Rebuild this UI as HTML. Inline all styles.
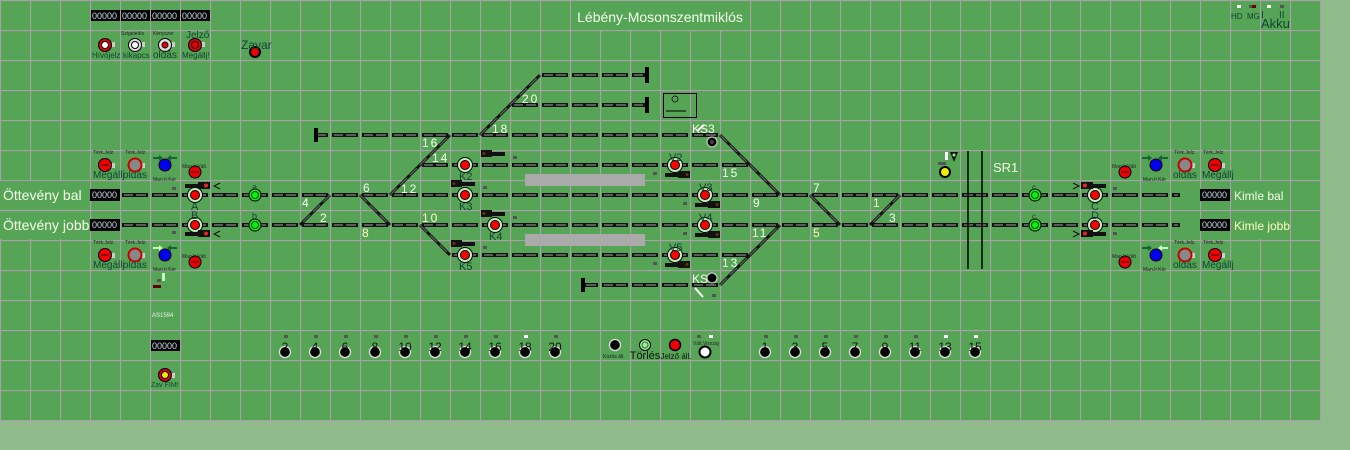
<!DOCTYPE html>
<html><head><meta charset="utf-8"><style>
html,body{margin:0;padding:0;background:#8fbc8a;}
svg{display:block}
text{font-family:"Liberation Sans",sans-serif}
.n{font-family:"Liberation Mono",monospace;font-size:12px;fill:#f4ffe8}
.s{font-size:5px;fill:#222}
.l{font-size:10px;fill:#143}
</style></head><body>
<svg width="1350" height="450" viewBox="0 0 1350 450" xmlns="http://www.w3.org/2000/svg">
<defs>
<pattern id="grid" width="30" height="30" patternUnits="userSpaceOnUse">
<rect width="30" height="30" fill="#56a556"/>
<path d="M0 0.5H30M0.5 0V30" stroke="#aaa0aa" stroke-width="1.2"/>
</pattern>
</defs>
<rect width="1350" height="450" fill="#8fbc8a"/>
<rect width="1321" height="421" fill="url(#grid)"/>
<!-- label boxes hiding grid -->
<rect x="571" y="1" width="179" height="29" fill="#56a556"/>
<rect x="0" y="181" width="90" height="58" fill="#56a556"/>
<line x1="0" y1="210.5" x2="90" y2="210.5" stroke="#aaa0aa" stroke-width="1.2"/>
<rect x="1231" y="181" width="59" height="58" fill="#56a556"/>
<line x1="1231" y1="210.5" x2="1290" y2="210.5" stroke="#aaa0aa" stroke-width="1.2"/>

<text x="660" y="22" text-anchor="middle" font-size="14" fill="#f4ffe8">Lébény-Mosonszentmiklós</text>

<!-- tracks -->
<g fill="none">
<g stroke="#111" stroke-width="4" stroke-dasharray="26 4">
<line x1="120" y1="195" x2="1180" y2="195" stroke-dashoffset="28"/>
<line x1="120" y1="225" x2="1180" y2="225" stroke-dashoffset="28"/>
<line x1="420" y1="165" x2="750" y2="165" stroke-dashoffset="28"/>
<line x1="315" y1="135" x2="720" y2="135" stroke-dashoffset="13"/>
<line x1="510" y1="105" x2="648" y2="105" stroke-dashoffset="28"/>
<line x1="540" y1="75" x2="648" y2="75" stroke-dashoffset="28"/>
<line x1="450" y1="255" x2="750" y2="255" stroke-dashoffset="28"/>
<line x1="583" y1="285" x2="720" y2="285" stroke-dashoffset="11"/>
</g>
<g stroke="#5a5a5a" stroke-width="2" stroke-dasharray="9 3 10 8">
<line x1="120" y1="195" x2="1178" y2="195" stroke-dashoffset="26"/>
<line x1="120" y1="225" x2="1178" y2="225" stroke-dashoffset="26"/>
<line x1="420" y1="165" x2="748" y2="165" stroke-dashoffset="26"/>
<line x1="315" y1="135" x2="718" y2="135" stroke-dashoffset="11"/>
<line x1="510" y1="105" x2="646" y2="105" stroke-dashoffset="26"/>
<line x1="540" y1="75" x2="646" y2="75" stroke-dashoffset="26"/>
<line x1="450" y1="255" x2="748" y2="255" stroke-dashoffset="26"/>
<line x1="583" y1="285" x2="718" y2="285" stroke-dashoffset="9"/>
</g>
<g stroke="#111" stroke-width="3">
<line x1="330" y1="195" x2="300" y2="225"/><line x1="360" y1="195" x2="390" y2="225"/>
<line x1="390" y1="195" x2="450" y2="135"/><line x1="480" y1="135" x2="540" y2="75"/>
<line x1="420" y1="225" x2="450" y2="255"/><line x1="720" y1="135" x2="780" y2="195"/>
<line x1="720" y1="285" x2="780" y2="225"/><line x1="810" y1="195" x2="840" y2="225"/>
<line x1="900" y1="195" x2="870" y2="225"/>
</g>
<g stroke="#666" stroke-width="1.2" stroke-dasharray="10 4">
<line x1="330" y1="195" x2="300" y2="225"/><line x1="360" y1="195" x2="390" y2="225"/>
<line x1="390" y1="195" x2="450" y2="135"/><line x1="480" y1="135" x2="540" y2="75"/>
<line x1="420" y1="225" x2="450" y2="255"/><line x1="720" y1="135" x2="780" y2="195"/>
<line x1="720" y1="285" x2="780" y2="225"/><line x1="810" y1="195" x2="840" y2="225"/>
<line x1="900" y1="195" x2="870" y2="225"/>
</g>
<g stroke="#000" stroke-width="4">
<line x1="316" y1="128" x2="316" y2="142"/><line x1="647" y1="67" x2="647" y2="83"/>
<line x1="647" y1="97" x2="647" y2="113"/><line x1="583" y1="278" x2="583" y2="292"/>
</g>
<line x1="968" y1="151" x2="968" y2="269" stroke="#000" stroke-width="1.5"/>
<line x1="982" y1="151" x2="982" y2="269" stroke="#000" stroke-width="1.5"/>
<line x1="695" y1="288" x2="703" y2="297" stroke="#fff" stroke-width="2"/>
<line x1="697" y1="131" x2="704" y2="125" stroke="#fff" stroke-width="2"/>
</g>
<!-- platforms -->
<rect x="525" y="174" width="120" height="12" fill="#aaa"/>
<rect x="525" y="234" width="120" height="12" fill="#aaa"/>
<!-- box -->
<rect x="663.5" y="93.5" width="33" height="24" fill="none" stroke="#000"/>
<circle cx="675" cy="99" r="3" fill="none" stroke="#000" stroke-width="0.8"/>
<line x1="666" y1="111" x2="686" y2="111" stroke="#000"/>

<!-- track numbers -->
<g class="n" letter-spacing="2">
<text x="422" y="147">16</text><text x="432" y="162">14</text><text x="401" y="193">12</text>
<text x="492" y="133">18</text><text x="522" y="103">20</text><text x="722" y="177">15</text>
<text x="753" y="207">9</text><text x="813" y="192">7</text><text x="422" y="222" fill="#ffffc0">10</text>
<text x="752" y="237">11</text><text x="813" y="237" fill="#ffffc0">5</text><text x="722" y="267">13</text>
<text x="363" y="192">6</text><text x="302" y="207">4</text><text x="320" y="222">2</text>
<text x="362" y="237" fill="#ffffc0">8</text><text x="873" y="207" fill="#ffffc0">1</text><text x="889" y="222">3</text>
<text x="692" y="133" letter-spacing="0">KS3</text><text x="692" y="283" letter-spacing="0">KS0</text>
</g>
<circle cx="712" cy="142" r="5" fill="#000" stroke="#ddd"/><circle cx="712" cy="142" r="2" fill="#444"/>
<circle cx="712" cy="278" r="5" fill="#000" stroke="#ddd"/>

<!-- side labels -->
<text x="3" y="200" font-size="14" fill="#f4ffe8">Öttevény bal</text>
<text x="3" y="230" font-size="14" fill="#f4ffe8">Öttevény jobb</text>
<text x="1234" y="200" font-size="12" fill="#f4ffe8">Kimle bal</text>
<text x="1234" y="230" font-size="12" fill="#ffffc0">Kimle jobb</text>
<text x="993" y="172" font-size="13" fill="#f4ffe8">SR1</text>
<!-- counters -->
<g font-family="Liberation Mono" font-size="9" fill="#cde">
<rect x="90" y="189" width="30" height="12" fill="#000"/><text x="92" y="198">00000</text>
<rect x="90" y="219" width="30" height="12" fill="#000"/><text x="92" y="228">00000</text>
<rect x="1200" y="189" width="30" height="12" fill="#000"/><text x="1202" y="198">00000</text>
<rect x="1200" y="219" width="30" height="12" fill="#000"/><text x="1202" y="228">00000</text>
<rect x="91" y="10" width="29" height="11" fill="#000"/><text x="92" y="19">00000</text>
<rect x="121" y="10" width="29" height="11" fill="#000"/><text x="122" y="19">00000</text>
<rect x="151" y="10" width="29" height="11" fill="#000"/><text x="152" y="19">00000</text>
<rect x="181" y="10" width="29" height="11" fill="#000"/><text x="182" y="19">00000</text>
<rect x="151" y="340" width="29" height="11" fill="#000"/><text x="152" y="349">00000</text>
</g>

<!-- main signals -->
<g stroke="#000" stroke-width="1">
<g fill="#bfeebf">
<circle cx="195" cy="195" r="7.5"/><circle cx="195" cy="225" r="7.5"/>
<circle cx="465" cy="165" r="7.5"/><circle cx="465" cy="195" r="7.5"/><circle cx="495" cy="225" r="7.5"/><circle cx="465" cy="255" r="7.5"/>
<circle cx="675" cy="165" r="7.5"/><circle cx="705" cy="195" r="7.5"/><circle cx="705" cy="225" r="7.5"/><circle cx="675" cy="255" r="7.5"/>
<circle cx="1095" cy="195" r="7.5"/><circle cx="1095" cy="225" r="7.5"/>
</g>
<g fill="#f00">
<circle cx="195" cy="195" r="4.5"/><circle cx="195" cy="225" r="4.5"/>
<circle cx="465" cy="165" r="4.5"/><circle cx="465" cy="195" r="4.5"/><circle cx="495" cy="225" r="4.5"/><circle cx="465" cy="255" r="4.5"/>
<circle cx="675" cy="165" r="4.5"/><circle cx="705" cy="195" r="4.5"/><circle cx="705" cy="225" r="4.5"/><circle cx="675" cy="255" r="4.5"/>
<circle cx="1095" cy="195" r="4.5"/><circle cx="1095" cy="225" r="4.5"/>
</g>
<g fill="#1e1"><circle cx="255" cy="195" r="6"/><circle cx="255" cy="225" r="6"/><circle cx="1035" cy="195" r="6"/><circle cx="1035" cy="225" r="6"/></g>
<g fill="none" stroke="#040"><circle cx="255" cy="195" r="3.5"/><circle cx="255" cy="225" r="3.5"/><circle cx="1035" cy="195" r="3.5"/><circle cx="1035" cy="225" r="3.5"/></g>
</g>
<g font-size="11" fill="#143">
<text x="191" y="210">A</text><text x="191" y="219">B</text><text x="1091" y="210">C</text><text x="1091" y="219">D</text>
<text x="459" y="180">K2</text><text x="459" y="210">K3</text><text x="489" y="240">K4</text><text x="459" y="270">K5</text>
<text x="669" y="161">V2</text><text x="699" y="191">V3</text><text x="699" y="221">V4</text><text x="669" y="251">V5</text>
<text x="252" y="190" font-size="9">a</text><text x="252" y="219" font-size="9">b</text>
<text x="1032" y="190" font-size="8">c</text><text x="1032" y="219" font-size="8">c</text>
</g>
<!-- signal heads -->
<g>
<g fill="#111">
<rect x="185" y="184" width="25" height="4"/><rect x="198" y="182" width="12" height="7"/>
<rect x="185" y="232" width="25" height="4"/><rect x="198" y="230" width="12" height="7"/>
<rect x="481" y="152" width="24" height="4"/><rect x="481" y="150" width="11" height="7"/>
<rect x="451" y="182" width="24" height="4"/><rect x="451" y="180" width="11" height="7"/>
<rect x="481" y="212" width="24" height="4"/><rect x="481" y="210" width="11" height="7"/>
<rect x="451" y="242" width="24" height="4"/><rect x="451" y="240" width="11" height="7"/>
<rect x="665" y="173" width="25" height="4"/><rect x="678" y="171" width="12" height="7"/>
<rect x="695" y="203" width="25" height="4"/><rect x="708" y="201" width="12" height="7"/>
<rect x="695" y="233" width="25" height="4"/><rect x="708" y="231" width="12" height="7"/>
<rect x="665" y="263" width="25" height="4"/><rect x="678" y="261" width="12" height="7"/>
<rect x="1081" y="184" width="25" height="4"/><rect x="1081" y="182" width="12" height="7"/>
<rect x="1081" y="232" width="25" height="4"/><rect x="1081" y="230" width="12" height="7"/>
</g>
<g fill="#e22"><circle cx="206" cy="185.5" r="2"/><circle cx="206" cy="233.5" r="2"/><circle cx="1085" cy="185.5" r="2"/><circle cx="1085" cy="233.5" r="2"/></g>
<g fill="#630"><circle cx="484" cy="153.5" r="1.5"/><circle cx="454" cy="183.5" r="1.5"/><circle cx="484" cy="213.5" r="1.5"/><circle cx="454" cy="243.5" r="1.5"/><circle cx="687" cy="174.5" r="1.5"/><circle cx="717" cy="204.5" r="1.5"/><circle cx="717" cy="234.5" r="1.5"/><circle cx="687" cy="264.5" r="1.5"/></g>
<g stroke="#111" fill="none" stroke-width="1"><path d="M220 183l-6 3l6 3M1073 183l6 3l-6 3M220 231l-6 3l6 3M1073 231l6 3l-6 3"/></g>
</g>
<!-- small grey indicators -->
<g fill="#555">
<rect x="172" y="187" width="4" height="3"/><rect x="172" y="231" width="4" height="3"/>
<rect x="513" y="156" width="4" height="3"/><rect x="483" y="186" width="4" height="3"/><rect x="513" y="216" width="4" height="3"/><rect x="483" y="246" width="4" height="3"/>
<rect x="653" y="172" width="4" height="3"/><rect x="683" y="202" width="4" height="3"/><rect x="683" y="232" width="4" height="3"/><rect x="653" y="262" width="4" height="3"/>
<rect x="1113" y="187" width="4" height="3"/><rect x="1113" y="232" width="4" height="3"/><rect x="712" y="294" width="4" height="3"/>
<rect x="938" y="162" width="8" height="3"/><rect x="157" y="279" width="4" height="3"/>
</g>
<rect x="162" y="273" width="3" height="8" fill="#bfb"/>
<rect x="153" y="285" width="8" height="3" fill="#600"/>
<text x="152" y="317" font-size="6" fill="#eee">AS1594</text>
<!-- yellow signal -->
<rect x="945" y="152" width="3" height="8" fill="#fff"/>
<path d="M950 152h8l-4 10z" fill="#111"/><circle cx="954" cy="155" r="1.5" fill="#9e9"/>
<circle cx="945" cy="172" r="5" fill="#ee0" stroke="#000" stroke-width="2"/>

<!-- control buttons -->
<g id="btns">
<!-- generic button: grey nub + ring -->
<g fill="#ccc"><rect x="109" y="42" width="6" height="5"/><rect x="139" y="42" width="6" height="5"/><rect x="169" y="42" width="6" height="5"/><rect x="199" y="42" width="6" height="5"/>
<rect x="109" y="163" width="6" height="5"/><rect x="139" y="163" width="6" height="5"/><rect x="109" y="253" width="6" height="5"/><rect x="139" y="253" width="6" height="5"/>
<rect x="1189" y="163" width="6" height="5"/><rect x="1219" y="163" width="6" height="5"/><rect x="1189" y="253" width="6" height="5"/><rect x="1219" y="253" width="6" height="5"/>
<rect x="169" y="373" width="6" height="5"/></g>
<g stroke="#000"><circle cx="105" cy="45" r="6.5" fill="#d00"/><circle cx="105" cy="45" r="3.5" fill="#fff"/>
<circle cx="135" cy="45" r="6.5" fill="#ddd"/><circle cx="135" cy="45" r="3.5" fill="#fff"/>
<circle cx="165" cy="45" r="6.5" fill="#ddd"/><circle cx="165" cy="45" r="3" fill="#e00"/>
<circle cx="195" cy="45" r="6.5" fill="#d00"/><circle cx="195" cy="45" r="3.5" fill="#e00"/>
<circle cx="255" cy="52" r="5" fill="#e00" stroke-width="2"/>
<circle cx="105" cy="165" r="6.5" fill="#e00"/><circle cx="135" cy="165" r="6.5" fill="#888" stroke="#c00" stroke-width="2"/>
<circle cx="105" cy="255" r="6.5" fill="#e00"/><circle cx="135" cy="255" r="6.5" fill="#888" stroke="#c00" stroke-width="2"/>
<circle cx="1215" cy="165" r="6.5" fill="#e00"/><circle cx="1185" cy="165" r="6.5" fill="#888" stroke="#c00" stroke-width="2"/>
<circle cx="1215" cy="255" r="6.5" fill="#e00"/><circle cx="1185" cy="255" r="6.5" fill="#888" stroke="#c00" stroke-width="2"/>
<circle cx="165" cy="165" r="6" fill="#00e"/><circle cx="165" cy="255" r="6" fill="#00e"/>
<circle cx="1156" cy="165" r="6" fill="#00e"/><circle cx="1156" cy="255" r="6" fill="#00e"/>
<circle cx="195" cy="172" r="6" fill="#e00"/><circle cx="195" cy="262" r="6" fill="#e00"/>
<circle cx="1125" cy="172" r="6" fill="#e00"/><circle cx="1125" cy="262" r="6" fill="#e00"/>
<circle cx="165" cy="375" r="6.5" fill="#d00"/><circle cx="165" cy="375" r="3.5" fill="#ee0"/>
</g>
<g stroke="#300" stroke-width="1"><path d="M101 165h8M101 255h8M1211 165h8M1211 255h8M191 172h8M191 262h8M1121 172h8M1121 262h8"/></g>
<g fill="#163"><path d="M153 157h6v-2l4 3l-4 3v-2h-6zM177 157h-6v-2l-4 3l4 3v-2h6z"/></g>
<g fill="#163"><path d="M1142 157h6v-2l4 3l-4 3v-2h-6zM1168 157h-6v-2l-4 3l4 3v-2h6zM177 247h-6v-2l-4 3l4 3v-2h6zM1142 247h6v-2l4 3l-4 3v-2h-6z"/></g>
<g fill="#bfb"><path d="M153 247h6v-2l4 3l-4 3v-2h-6zM1168 247h-6v-2l-4 3l4 3v-2h6z"/></g>
</g>
<g class="l">
<text x="92" y="58" font-size="8">Hívójelz</text><text x="123" y="58" font-size="8">kikapcs</text>
<text x="153" y="58">oldás</text><text x="182" y="58" font-size="8">Megállj!</text>
<text x="186" y="38">Jelző</text><text x="241" y="49" font-size="12">Zavar</text>
<text x="93" y="178">Megállj</text><text x="123" y="178">oldás</text>
<text x="93" y="268">Megállj</text><text x="123" y="268">oldás</text>
<text x="1173" y="178">oldás</text><text x="1202" y="178">Megállj</text>
<text x="1173" y="268">oldás</text><text x="1202" y="268">Megállj</text>
<text x="151" y="387" font-size="7">Zav FIM!</text>
<text x="1231" y="19" font-size="8">HD</text><text x="1247" y="19" font-size="8">MG</text>
<text x="1261" y="28" font-size="13">Akku</text><text x="1261" y="18" font-size="10">I</text><text x="1279" y="18" font-size="10">II</text>
</g>
<g class="s">
<text x="121" y="35">Szigetelés</text><text x="153" y="35">Kényszer</text>
<text x="93" y="154">Térk.Jelz.</text><text x="125" y="154">Térk.Jelz.</text><text x="182" y="168">Man.Ir.Vált</text><text x="153" y="181">Man.Ir.Kér</text>
<text x="93" y="244">Térk.Jelz.</text><text x="125" y="244">Térk.Jelz.</text><text x="182" y="258">Man.Ir.Vált</text><text x="153" y="271">Man.Ir.Kér</text>
<text x="1112" y="168">Man.Ir.Vált</text><text x="1143" y="181">Man.Ir.Kér</text><text x="1174" y="154">Térk.Jelz.</text><text x="1203" y="154">Térk.Jelz.</text>
<text x="1112" y="258">Man.Ir.Vált</text><text x="1143" y="271">Man.Ir.Kér</text><text x="1174" y="244">Térk.Jelz.</text><text x="1203" y="244">Térk.Jelz.</text>
<text x="603" y="358">Közös áll.</text><text x="693" y="345">Vált.Visszaj</text>
</g>
<!-- bottom point buttons -->
<g stroke="#ddd" stroke-width="1.3" fill="#000">
<circle cx="285" cy="352" r="5.5"/><circle cx="315" cy="352" r="5.5"/><circle cx="345" cy="352" r="5.5"/><circle cx="375" cy="352" r="5.5"/><circle cx="405" cy="352" r="5.5"/>
<circle cx="435" cy="352" r="5.5"/><circle cx="465" cy="352" r="5.5"/><circle cx="495" cy="352" r="5.5"/><circle cx="525" cy="352" r="5.5"/><circle cx="555" cy="352" r="5.5"/>
<circle cx="765" cy="352" r="5.5"/><circle cx="795" cy="352" r="5.5"/><circle cx="825" cy="352" r="5.5"/><circle cx="855" cy="352" r="5.5"/><circle cx="885" cy="352" r="5.5"/>
<circle cx="915" cy="352" r="5.5"/><circle cx="945" cy="352" r="5.5"/><circle cx="975" cy="352" r="5.5"/>
<circle cx="615" cy="345" r="5.5"/>
</g>
<circle cx="645" cy="345" r="5.5" fill="#9e9" stroke="#000"/><circle cx="645" cy="345" r="3" fill="none" stroke="#363"/>
<circle cx="675" cy="345" r="5.5" fill="#e00" stroke="#000" stroke-width="1.5"/>
<circle cx="705" cy="352" r="5.5" fill="#fff" stroke="#000" stroke-width="2"/>
<g font-size="12" fill="#111" text-anchor="middle">
<text x="285" y="351">2</text><text x="315" y="351">4</text><text x="345" y="351">6</text><text x="375" y="351">8</text><text x="405" y="351">10</text>
<text x="435" y="351">12</text><text x="465" y="351">14</text><text x="495" y="351">16</text><text x="525" y="351">18</text><text x="555" y="351">20</text>
<text x="765" y="351">1</text><text x="795" y="351">3</text><text x="825" y="351">5</text><text x="855" y="351">7</text><text x="885" y="351">9</text>
<text x="915" y="351">11</text><text x="945" y="351">13</text><text x="975" y="351">15</text>
<text x="645" y="359" font-size="11">Törlés</text><text x="676" y="359" font-size="8">Jelző áll.</text>
</g>
<g fill="#555">
<rect x="284" y="335" width="4" height="3"/><rect x="314" y="335" width="4" height="3"/><rect x="344" y="335" width="4" height="3"/><rect x="374" y="335" width="4" height="3"/><rect x="404" y="335" width="4" height="3"/>
<rect x="434" y="335" width="4" height="3"/><rect x="464" y="335" width="4" height="3"/><rect x="494" y="335" width="4" height="3"/><rect x="554" y="335" width="4" height="3"/>
<rect x="764" y="335" width="4" height="3"/><rect x="794" y="335" width="4" height="3"/><rect x="824" y="335" width="4" height="3"/><rect x="854" y="335" width="4" height="3"/><rect x="884" y="335" width="4" height="3"/><rect x="914" y="335" width="4" height="3"/>
<rect x="697" y="335" width="4" height="3"/><rect x="1249" y="5" width="4" height="3"/>
</g>
<g fill="#fff"><rect x="524" y="335" width="4" height="3"/><rect x="944" y="335" width="4" height="3"/><rect x="974" y="335" width="4" height="3"/><rect x="709" y="335" width="4" height="3"/><rect x="1237" y="5" width="4" height="3"/><rect x="1267" y="5" width="4" height="3"/></g>
<rect x="1252" y="5" width="4" height="3" fill="#600"/><rect x="1280" y="5" width="4" height="3" fill="#555"/>
</svg>
</body></html>
